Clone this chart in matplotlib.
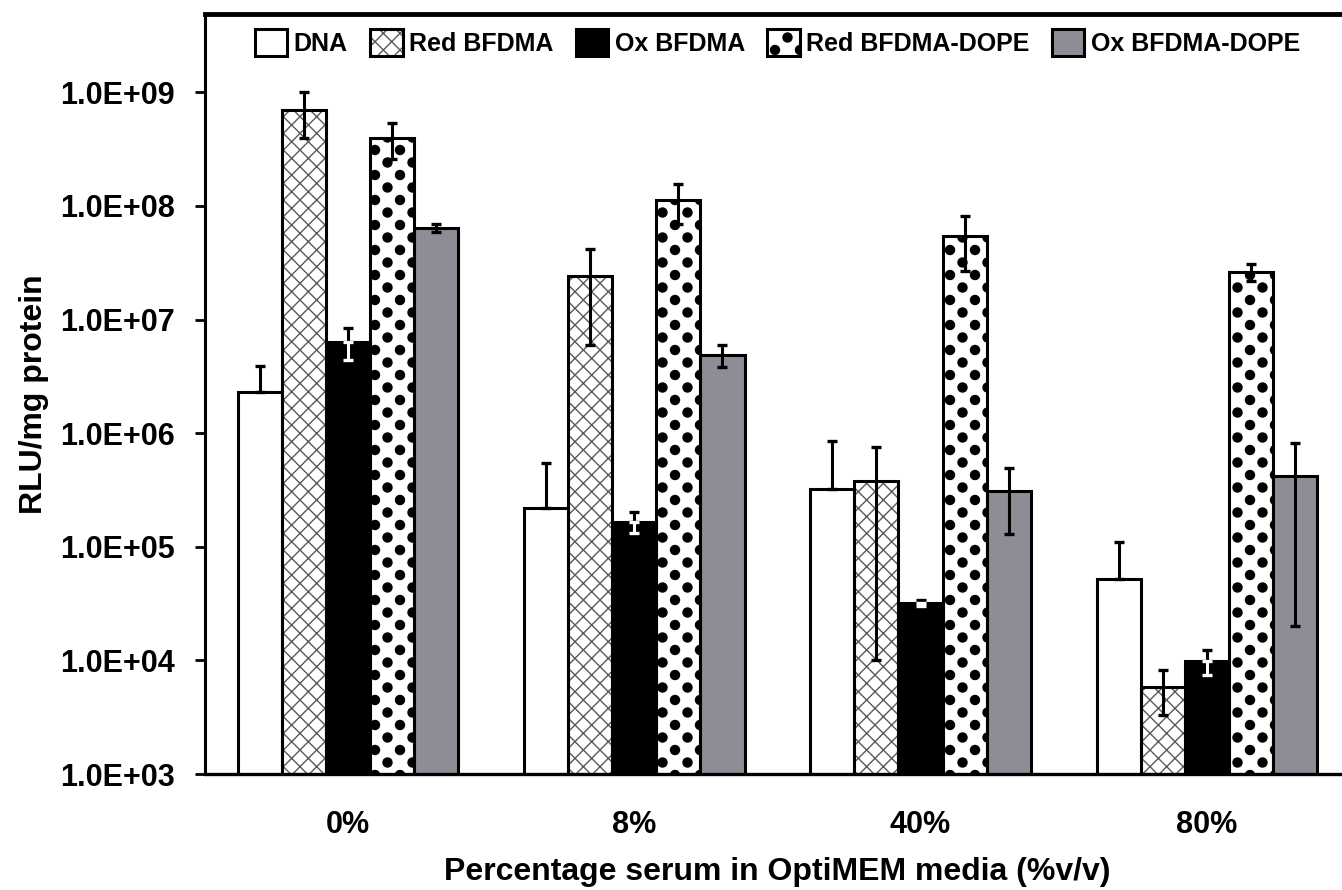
import numpy as np
import matplotlib
matplotlib.use("Agg")
import matplotlib.pyplot as plt
from matplotlib import hatch as mhatch
from matplotlib.path import Path
from matplotlib.patches import Patch
from matplotlib.legend_handler import HandlerTuple
from matplotlib.ticker import FuncFormatter, NullLocator

# data
groups = ["0%", "8%", "40%", "80%"]
series = ["DNA", "Red BFDMA", "Ox BFDMA", "Red BFDMA-DOPE", "Ox BFDMA-DOPE"]
yticks = [1e3, 1e4, 1e5, 1e6, 1e7, 1e8, 1e9]

dna = [2.3e6, 2.2e5, 3.2e5, 5.2e4]
dna_sd = [1.6e6, 3.3e5, 5.4e5, 5.9e4]
red = [7.0e8, 2.4e7, 3.8e5, 5.8e3]
red_sd = [3.0e8, 1.8e7, 3.7e5, 2.5e3]
ox = [6.4e6, 1.66e5, 3.2e4, 9.9e3]
ox_sd = [2.0e6, 3.5e4, 1.8e3, 2.4e3]
red_dope = [4.0e8, 1.12e8, 5.4e7, 2.65e7]
red_dope_sd = [1.4e8, 4.3e7, 2.7e7, 4.5e6]
ox_dope = [6.4e7, 4.9e6, 3.1e5, 4.2e5]
ox_dope_sd = [5.0e6, 1.1e6, 1.8e5, 4.0e5]


class BigDots(mhatch.HatchPatternBase):
    """staggered filled dots, denser in y than in x (replaces the '.' hatch)"""

    def __init__(self, hatch, density):
        n = hatch.count(".")
        circle = Path.unit_circle()
        self.shape_vertices = circle.vertices * 0.045
        self.shape_codes = circle.codes
        self.centers = []
        if n:
            ncol, nrow = 4 * n, 8 * n
            for r in range(nrow + 1):
                if r % 2 == 0:
                    xs = np.linspace(0, 1, ncol + 1)
                else:
                    xs = (np.arange(ncol) + 0.5) / ncol
                for xc in xs:
                    self.centers.append((xc, r / nrow))
        self.num_vertices = len(self.centers) * len(self.shape_vertices)

    def set_vertices_and_codes(self, vertices, codes):
        vparts = [self.shape_vertices + c for c in self.centers]
        cparts = [self.shape_codes for _ in self.centers]
        np.concatenate(vparts, out=vertices)
        np.concatenate(cparts, out=codes)


mhatch._hatch_types = [
    BigDots if t is mhatch.SmallFilledCircles else t for t in mhatch._hatch_types
]

plt.rcParams["font.family"] = ["Liberation Sans", "DejaVu Sans"]
plt.rcParams["font.weight"] = "bold"
plt.rcParams["hatch.linewidth"] = 1.0

fig = plt.figure(figsize=(13.42, 8.9), dpi=100)
ax = fig.add_axes([0.1528, 0.1303, 0.853, 0.854])

x = np.arange(len(groups))
w = 0.154
grey = "#8d8e95"
styles = [
    # face, hatch colour, hatch
    ("white", "black", None),
    ("white", "#5a5a5a", "xx"),
    ("black", "black", None),
    ("white", "black", "."),
    (grey, grey, None),
]
values = [dna, red, ox, red_dope, ox_dope]
sds = [dna_sd, red_sd, ox_sd, red_dope_sd, ox_dope_sd]

handles = []
for i, (vals, sd, (face, hcol, hatch)) in enumerate(zip(values, sds, styles)):
    xi = x + (i - 2) * w
    ax.bar(xi, vals, w, color=face, edgecolor=hcol, hatch=hatch,
           linewidth=0, zorder=2)
    ax.bar(xi, vals, w, fill=False, edgecolor="black", linewidth=2.2, zorder=3)
    sd = np.array(sd)
    zero = np.zeros_like(sd)
    ekw = dict(fmt="none", elinewidth=2.2, capsize=3.8, capthick=2.4, zorder=4)
    if i == 0:
        # DNA: only the upper half of the bar is shown
        ax.errorbar(xi, vals, yerr=[zero, sd], ecolor="black", **ekw)
    elif i == 2:
        # on the black bars the lower half is drawn in white
        ax.errorbar(xi, vals, yerr=[zero, sd], ecolor="black", **ekw)
        ax.errorbar(xi, vals, yerr=[sd, zero], ecolor="white", **ekw)
    else:
        ax.errorbar(xi, vals, yerr=sd, ecolor="black", **ekw)
    handles.append((
        Patch(facecolor=face, edgecolor=hcol, hatch=hatch, linewidth=0),
        Patch(fill=False, edgecolor="black", linewidth=2.2),
    ))

ax.set_yscale("log")
ax.set_ylim(1e3, 4.9e9)
ax.set_xlim(-0.5, 3.5)
ax.set_yticks(yticks)
ax.yaxis.set_minor_locator(NullLocator())
ax.yaxis.set_major_formatter(FuncFormatter(lambda v, p: f"{v:.1E}"))
ax.set_xticks(x)
ax.set_xticklabels(groups)

ax.tick_params(axis="y", direction="out", length=7, width=2, pad=15,
               labelsize=22)
ax.tick_params(axis="x", length=0, pad=26, labelsize=22)

ax.spines["right"].set_visible(False)
ax.spines["top"].set_linewidth(3.5)
ax.spines["left"].set_linewidth(2.2)
ax.spines["bottom"].set_linewidth(2.4)

ax.set_xlabel("Percentage serum in OptiMEM media (%v/v)", fontsize=23,
              fontweight="bold", labelpad=12)
ax.set_ylabel("RLU/mg protein", fontsize=23, fontweight="bold", labelpad=8)

ax.legend(handles, series, handler_map={tuple: HandlerTuple(ndivide=1)},
          loc="upper center", ncol=5, frameon=False,
          handlelength=1.3, handleheight=1.3, handletextpad=0.25,
          columnspacing=0.9, borderaxespad=0.2,
          prop={"weight": "bold", "size": 18})

fig.savefig("out.png", dpi=100)
